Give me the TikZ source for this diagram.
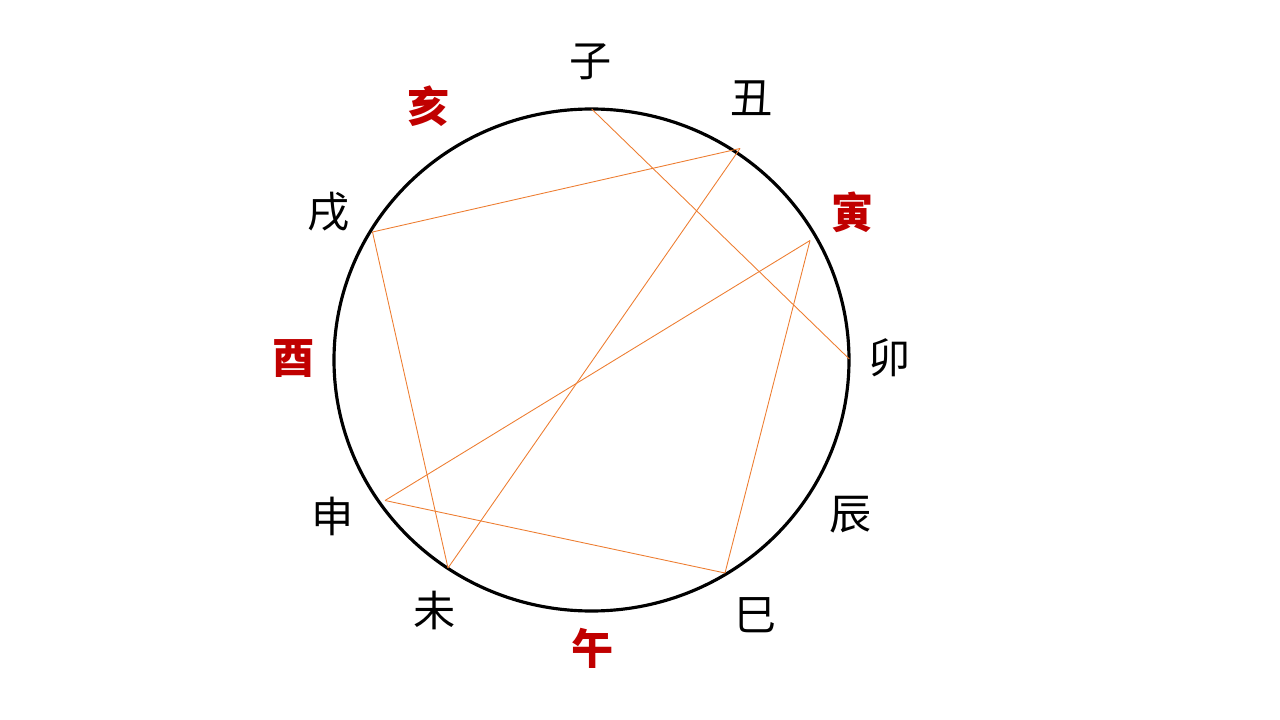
\documentclass[tikz,border=0pt]{standalone}
\usepackage{fontspec}
\newfontfamily\cjk{Noto Sans CJK SC}
\definecolor{linea}{RGB}{237,125,49}
\definecolor{rojo}{RGB}{192,0,0}
\tikzset{rama/.style={font=\cjk\fontsize{24}{24}\selectfont},
         fuerte/.style={text=rojo, font=\cjk\bfseries\fontsize{24}{24}\selectfont},
         enlace/.style={color=linea, line width=0.5pt}}
\begin{document}
\begin{tikzpicture}[x=0.2mm,y=-0.2mm]
    \useasboundingbox (0,0) rectangle (1280,720);
    \draw[line width=1.8pt] (591.5,360) ellipse (257.5 and 251);

    \node[rama] (zi) at (591,62) {子};
    \node[rama] (chou) at (752,98) {丑};
    \node[fuerte] (yin) at (853,212) {寅};
    \node[rama] (mao) at (890,358) {卯};
    \node[rama] (chen) at (851,515) {辰};
    \node[rama] (si) at (756,615) {巳};
    \node[fuerte] (wu) at (593,648) {午};
    \node[rama] (wei) at (435,610) {未};
    \node[rama] (shen) at (333,516) {申};
    \node[fuerte] (you) at (294,359) {酉};
    \node[rama] (xu) at (329,212) {戌};
    \node[fuerte] (hai) at (429,106) {亥};

    \coordinate (pzi) at (591.7,109);
    \coordinate (pchou) at (740,148.5);
    \coordinate (pyin) at (810,240.5);
    \coordinate (pmao) at (849.3,359);
    \coordinate (psi) at (725,573);
    \coordinate (pwei) at (448,568);
    \coordinate (pshen) at (385,500.5);
    \coordinate (pxu) at (372.5,232);

    \draw[enlace] (pzi) -- (pmao);
    \draw[enlace] (pchou) -- (pxu);
    \draw[enlace] (pchou) -- (pwei);
    \draw[enlace] (pyin) -- (pshen);
    \draw[enlace] (pyin) -- (psi);
    \draw[enlace] (pxu) -- (pwei);
    \draw[enlace] (pshen) -- (psi);
\end{tikzpicture}
\end{document}
